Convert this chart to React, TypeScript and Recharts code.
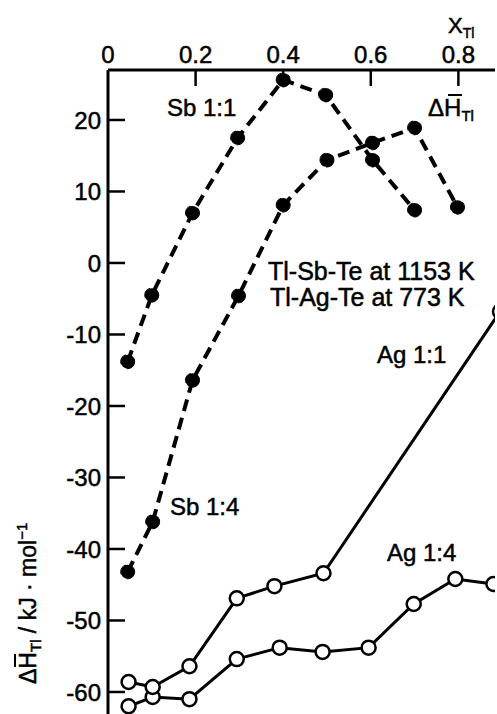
import React from 'react';
import { LineChart, Line, XAxis, YAxis } from 'recharts';

// top axis: mole fraction of Tl, left axis: partial enthalpy of Tl
const xTicks = [0, 0.2, 0.4, 0.6, 0.8];
const yTicks = [20, 10, 0, -10, -20, -30, -40, -50, -60];

// Tl-Sb-Te at 1153 K (filled, dashed)
const sb11X = [0.045, 0.1, 0.193, 0.296, 0.4, 0.497, 0.604, 0.7];
const sb11Y = [-13.8, -4.5, 7.0, 17.5, 25.6, 23.5, 14.4, 7.4];
const sb14X = [0.045, 0.102, 0.193, 0.298, 0.4, 0.5, 0.604, 0.7, 0.798];
const sb14Y = [-43.2, -36.2, -16.4, -4.6, 8.1, 14.4, 16.8, 18.9, 7.8];

// Tl-Ag-Te at 773 K (open, solid)
const ag11X = [0.047, 0.102, 0.186, 0.294, 0.38, 0.492, 0.895];
const ag11Y = [-58.6, -59.3, -56.4, -46.9, -45.2, -43.4, -6.8];
const ag14X = [0.047, 0.102, 0.186, 0.294, 0.392, 0.49, 0.595, 0.698, 0.793, 0.88];
const ag14Y = [-62, -60.7, -61, -55.4, -53.8, -54.4, -53.8, -47.7, -44.2, -44.9];

const zip = (xs: number[], ys: number[]) => xs.map((x, i) => ({ x, y: ys[i] }));

const FONT = '"Liberation Sans", Arial, sans-serif';
// scanned print looks a bit heavier than regular weight
const ink = { fill: '#000', stroke: '#000', strokeWidth: 0.5 };

const TopTick = (props: any) => {
  const { x, y, payload } = props;
  const v = payload.value;
  return (
    <g>
      {v !== 0 && <line x1={x} y1={y} x2={x} y2={y + 16} stroke="#000" strokeWidth={2.5} />}
      <text x={x} y={y - 7} textAnchor="middle" fontSize={24} fontFamily={FONT} {...ink}>
        {v === 0 ? '0' : v.toFixed(1)}
      </text>
    </g>
  );
};

const LeftTick = (props: any) => {
  const { x, y, payload } = props;
  return (
    <g>
      <line x1={x} y1={y} x2={x + 17} y2={y} stroke="#000" strokeWidth={2.5} />
      <text x={x - 7} y={y} dy="0.36em" textAnchor="end" fontSize={24} fontFamily={FONT} {...ink}>
        {String(payload.value)}
      </text>
    </g>
  );
};

const txt = { fontFamily: FONT, fontSize: 24, ...ink };

export default function App() {
  return (
    <div style={{ position: 'absolute', left: 0, top: 0, width: 497, height: 714, background: '#fff' }}>
      <LineChart width={497} height={714} margin={{ top: 30, right: 2, bottom: 0, left: 48 }}>
        <XAxis
          type="number"
          dataKey="x"
          orientation="top"
          domain={[0, 0.8836]}
          ticks={xTicks}
          interval={0}
          allowDataOverflow
          height={40}
          tickSize={0}
          tickMargin={0}
          tickLine={false}
          tick={TopTick}
          axisLine={{ stroke: '#000', strokeWidth: 3 }}
        />
        <YAxis
          type="number"
          dataKey="y"
          domain={[-63.08, 26.99]}
          ticks={yTicks}
          interval={0}
          allowDataOverflow
          width={60}
          tickSize={0}
          tickMargin={0}
          tickLine={false}
          tick={LeftTick}
          axisLine={{ stroke: '#000', strokeWidth: 3 }}
        />
        <Line data={zip(ag14X, ag14Y)} dataKey="y" type="linear" stroke="#000" strokeWidth={3}
          dot={{ r: 7, fill: '#fff', stroke: '#000', strokeWidth: 2.5 }} isAnimationActive={false} />
        <Line data={zip(ag11X, ag11Y)} dataKey="y" type="linear" stroke="#000" strokeWidth={3}
          dot={{ r: 7, fill: '#fff', stroke: '#000', strokeWidth: 2.5 }} isAnimationActive={false} />
        <Line data={zip(sb14X, sb14Y)} dataKey="y" type="linear" stroke="#000" strokeWidth={4}
          strokeDasharray="12 7" dot={{ r: 7, fill: '#000', stroke: '#000', strokeWidth: 1 }} isAnimationActive={false} />
        <Line data={zip(sb11X, sb11Y)} dataKey="y" type="linear" stroke="#000" strokeWidth={4}
          strokeDasharray="12 7" dot={{ r: 7, fill: '#000', stroke: '#000', strokeWidth: 1 }} isAnimationActive={false} />
      </LineChart>
      <svg width={497} height={714} style={{ position: 'absolute', left: 0, top: 0, pointerEvents: 'none' }}>
        <text x={448} y={33} {...txt} fontSize={22}>
          X<tspan fontSize={14} dy={5}>Tl</tspan>
        </text>
        <text x={167} y={116} {...txt}>Sb 1:1</text>
        <text x={428} y={116} {...txt}>
          ΔH<tspan fontSize={15} dy={5}>Tl</tspan>
        </text>
        <line x1={448} y1={95} x2={462} y2={95} stroke="#000" strokeWidth={2} />
        <text x={268} y={280} {...txt} fontSize={25}>Tl-Sb-Te at 1153 K</text>
        <text x={270} y={306} {...txt} fontSize={25}>Tl-Ag-Te at 773 K</text>
        <text x={377} y={363} {...txt}>Ag 1:1</text>
        <text x={170} y={515} {...txt}>Sb 1:4</text>
        <text x={387} y={561} {...txt}>Ag 1:4</text>
        <g transform="translate(36,684) rotate(-90)">
          <text x={0} y={0} textAnchor="start" {...txt} fontSize={23}>
            ΔH<tspan fontSize={15} dy={5}>Tl</tspan>
            <tspan dy={-5}> / kJ · mol</tspan>
            <tspan fontSize={15} dy={-9}>−1</tspan>
          </text>
          <line x1={17} y1={-21} x2={30} y2={-21} stroke="#000" strokeWidth={2} />
        </g>
      </svg>
    </div>
  );
}
